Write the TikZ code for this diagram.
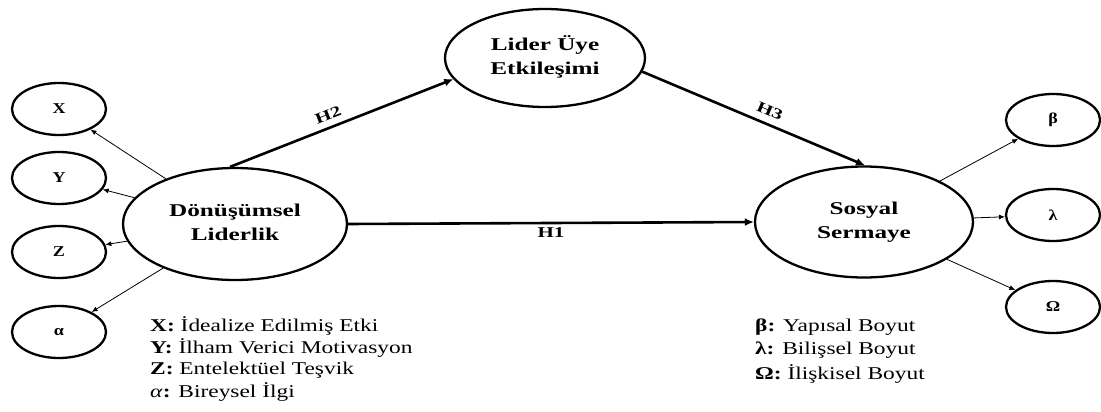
\documentclass[tikz,border=0pt]{standalone}
\usepackage{fontspec}
\setmainfont{Liberation Serif}
\usetikzlibrary{shapes.geometric,arrows.meta}
\newcommand{\sx}[2]{\scalebox{#1}[1]{#2}}
\newcommand{\twolines}[2]{\scalebox{1.4}[1]{\begin{tabular}{@{}c@{}}#1\\#2\end{tabular}}}
\begin{document}
\begin{tikzpicture}[x=1pt,y=-1pt,
  ell/.style={ellipse,draw,line width=2.3pt,inner sep=0pt,font=\bfseries\fontsize{18}{24}\selectfont},
  small/.style={ellipse,draw,line width=2.3pt,inner sep=0pt,minimum width=94pt,minimum height=52pt,font=\bfseries\fontsize{15}{17}\selectfont},
  thick arrow/.style={line width=2.6pt,-{Latex[length=9pt,width=8pt]}},
  thin arrow/.style={line width=0.8pt,-{Latex[length=6pt,width=5pt]}},
  hlabel/.style={font=\bfseries\fontsize{15}{17}\selectfont,inner sep=2pt,outer sep=6pt},
  legend/.style={anchor=west,font=\fontsize{18}{20}\selectfont,inner sep=0pt}]
\useasboundingbox (0,0) rectangle (1101,412);
% main constructs
\node[ell,minimum width=224pt,minimum height=112pt] (dl) at (235,224) {\twolines{Dönüşümsel}{Liderlik}};
\node[ell,minimum width=200pt,minimum height=98pt] (lue) at (545,58) {\twolines{Lider Üye}{Etkileşimi}};
\node[ell,minimum width=218pt,minimum height=111pt] (sos) at (864,222) {\twolines{Sosyal}{Sermaye}};
% dimensions
\node[small] (x) at (59,109) {\sx{1.2}{X}};
\node[small] (y) at (59,178) {\sx{1.2}{Y}};
\node[small] (z) at (59,252) {\sx{1.2}{Z}};
\node[small] (a) at (59,332) {\sx{1.2}{α}};
\node[small] (b) at (1053,120) {\sx{1.2}{β}};
\node[small] (l) at (1053,215) {\sx{1.2}{λ}};
\node[small] (o) at (1053,307) {\sx{1.2}{Ω}};
% hypotheses
\draw[thick arrow] (dl.95) -- node[hlabel,above,sloped,pos=0.46] {\sx{1.4}{H2}} (lue.193);
\draw[thick arrow] (lue.352) -- node[hlabel,above,sloped,pos=0.55] {\sx{1.4}{H3}} (sos.89);
\draw[thick arrow] (dl.0) -- node[hlabel,midway,below,outer sep=3pt] {\sx{1.4}{H1}} (sos.180);
% measurement arrows
\draw[thin arrow] (dl) -- (x);
\draw[thin arrow] (dl) -- (y);
\draw[thin arrow] (dl) -- (z);
\draw[thin arrow] (dl) -- (a);
\draw[thin arrow] (sos) -- (b);
\draw[thin arrow] (sos) -- (l);
\draw[thin arrow] (sos) -- (o);
% legends
\node[legend] (lg1) at (150,326) {\sx{1.3}{\textbf{X:} İdealize Edilmiş Etki}};
\node[legend] (lg2) at (150,348) {\sx{1.3}{\textbf{Y:} İlham Verici Motivasyon}};
\node[legend] (lg3) at (150,370) {\sx{1.3}{\textbf{Z:} Entelektüel Teşvik}};
\node[legend] (lg4) at (150,392) {\sx{1.3}{\textit{α}\textbf{:} Bireysel İlgi}};
\node[legend] (rg1) at (755,327) {\sx{1.3}{\textbf{β:} Yapısal Boyut}};
\node[legend] (rg2) at (755,350) {\sx{1.3}{\textbf{λ:} Bilişsel Boyut}};
\node[legend] (rg3) at (755,374) {\sx{1.3}{\textbf{Ω:} İlişkisel Boyut}};
\end{tikzpicture}
\end{document}
